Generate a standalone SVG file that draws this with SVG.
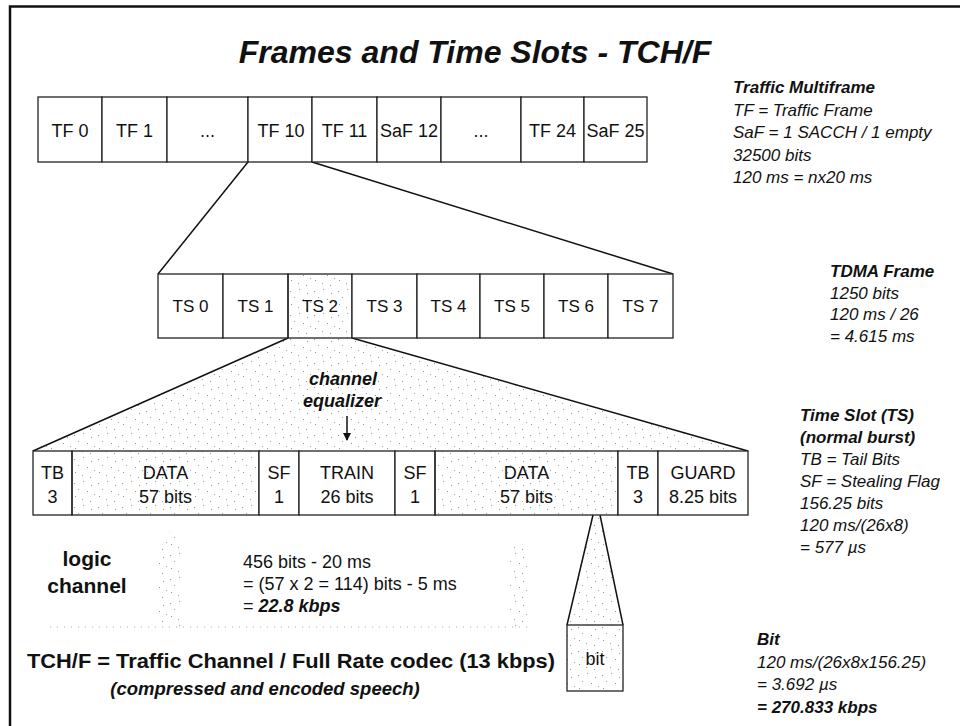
<svg xmlns="http://www.w3.org/2000/svg" width="960" height="726" viewBox="0 0 960 726">
  <defs>
    <!-- sparse grey stipple used for the highlighted slot, burst data and bit -->
    <pattern id="stipple" width="24" height="24" patternUnits="userSpaceOnUse">
      <rect x="2" y="3" width="1" height="1" fill="#959595"/>
      <rect x="11" y="1" width="1" height="1" fill="#a5a5a5"/>
      <rect x="19" y="5" width="1" height="1" fill="#959595"/>
      <rect x="6" y="9" width="1" height="1" fill="#a5a5a5"/>
      <rect x="15" y="11" width="1" height="1" fill="#959595"/>
      <rect x="22" y="14" width="1" height="1" fill="#a5a5a5"/>
      <rect x="3" y="16" width="1" height="1" fill="#959595"/>
      <rect x="10" y="19" width="1" height="1" fill="#a5a5a5"/>
      <rect x="18" y="21" width="1" height="1" fill="#959595"/>
    </pattern>
    <marker id="arrow" markerWidth="8" markerHeight="10" refX="7" refY="5" orient="auto" markerUnits="userSpaceOnUse">
      <path d="M0,1 L8,5 L0,9 Z" fill="#111"/>
    </marker>
  </defs>
  <style>
    text { font-family: "Liberation Sans", Arial, sans-serif; fill: #111; }
    .cell { font-size: 18px; text-anchor: middle; }
    .ts { font-size: 17px; text-anchor: middle; }
    .box { fill: #fff; stroke: #222; stroke-width: 1.3; }
    .dots { fill: url(#stipple); stroke: #222; stroke-width: 1.3; }
    .note { font-size: 17px; font-style: italic; }
    .noteb { font-size: 17px; font-style: italic; font-weight: bold; }
    .link { stroke: #111; stroke-width: 1.5; fill: none; }
  </style>

  <rect width="960" height="726" fill="#fff"/>

  <!-- frame lines -->
  <path d="M10,726 V6.5 H960" fill="none" stroke="#111" stroke-width="2.5"/>

  <!-- title -->
  <text x="475" y="63" font-size="32" font-weight="bold" font-style="italic" text-anchor="middle">Frames and Time Slots - TCH/F</text>

  <!-- connectors -->
  <g id="connectors">
    <!-- TS 2 fan-out area -->
    <polygon points="288,338 352,338 748,451 33,451" fill="url(#stipple)" stroke="none"/>
    <line class="link" x1="248" y1="162" x2="158" y2="274"/>
    <line class="link" x1="312" y1="162" x2="673" y2="274"/>
    <line class="link" x1="288" y1="338" x2="33" y2="451"/>
    <line class="link" x1="352" y1="338" x2="748" y2="451"/>
    <!-- bit zoom -->
    <polygon points="593,515 600,515 623,625 567,625" fill="url(#stipple)" stroke="none"/>
    <line class="link" x1="593" y1="515" x2="567" y2="625"/>
    <line class="link" x1="600" y1="515" x2="623" y2="625"/>
    <!-- equalizer pointer -->
    <line class="link" x1="347" y1="416" x2="347" y2="440" marker-end="url(#arrow)"/>
  </g>

  <!-- traffic multiframe -->
  <g id="multiframe">
    <rect class="box" x="38" y="97" width="64" height="65"/>
    <rect class="box" x="102" y="97" width="65" height="65"/>
    <rect class="box" x="167" y="97" width="81" height="65"/>
    <rect class="box" x="248" y="97" width="64" height="65"/>
    <rect class="box" x="312" y="97" width="65" height="65"/>
    <rect class="box" x="377" y="97" width="64" height="65"/>
    <rect class="box" x="441" y="97" width="80" height="65"/>
    <rect class="box" x="521" y="97" width="63" height="65"/>
    <rect class="box" x="584" y="97" width="63" height="65"/>
    <text class="cell" x="70" y="137">TF 0</text>
    <text class="cell" x="134.5" y="137">TF 1</text>
    <text class="cell" x="207.5" y="137">...</text>
    <text class="cell" x="281" y="137">TF 10</text>
    <text class="cell" x="344.5" y="137">TF 11</text>
    <text class="cell" x="409" y="137">SaF 12</text>
    <text class="cell" x="481" y="137">...</text>
    <text class="cell" x="552.5" y="137">TF 24</text>
    <text class="cell" x="615.5" y="137">SaF 25</text>
  </g>

  <g id="multiframe-note">
    <text class="noteb" x="733" y="93">Traffic Multiframe</text>
    <text class="note" x="733" y="115.5">TF = Traffic Frame</text>
    <text class="note" x="733" y="138">SaF = 1 SACCH / 1 empty</text>
    <text class="note" x="733" y="160.5">32500 bits</text>
    <text class="note" x="733" y="183">120 ms = nx20 ms</text>
  </g>

  <!-- TDMA frame -->
  <g id="tdma-frame">
    <rect class="box" x="158" y="274" width="65" height="64"/>
    <rect class="box" x="223" y="274" width="65" height="64"/>
    <rect class="dots" x="288" y="274" width="64" height="64"/>
    <rect class="box" x="352" y="274" width="65" height="64"/>
    <rect class="box" x="417" y="274" width="63" height="64"/>
    <rect class="box" x="480" y="274" width="64" height="64"/>
    <rect class="box" x="544" y="274" width="64" height="64"/>
    <rect class="box" x="608" y="274" width="65" height="64"/>
    <text class="ts" x="190.5" y="312">TS 0</text>
    <text class="ts" x="255.5" y="312">TS 1</text>
    <text class="ts" x="320" y="312">TS 2</text>
    <text class="ts" x="384.5" y="312">TS 3</text>
    <text class="ts" x="448.5" y="312">TS 4</text>
    <text class="ts" x="512" y="312">TS 5</text>
    <text class="ts" x="576" y="312">TS 6</text>
    <text class="ts" x="640.5" y="312">TS 7</text>
  </g>

  <g id="tdma-note">
    <text class="noteb" x="830" y="277">TDMA Frame</text>
    <text class="note" x="830" y="298.5">1250 bits</text>
    <text class="note" x="830" y="320">120 ms / 26</text>
    <text class="note" x="830" y="341.5">= 4.615 ms</text>
  </g>

  <g id="equalizer-label">
    <text x="343" y="385" font-size="18" font-weight="bold" font-style="italic" text-anchor="middle">channel</text>
    <text x="342" y="407" font-size="18" font-weight="bold" font-style="italic" text-anchor="middle">equalizer</text>
  </g>

  <!-- normal burst -->
  <g id="burst">
    <rect class="box" x="33" y="451" width="39" height="64"/>
    <rect class="dots" x="72" y="451" width="187" height="64"/>
    <rect class="box" x="259" y="451" width="40" height="64"/>
    <rect class="box" x="299" y="451" width="96" height="64"/>
    <rect class="box" x="395" y="451" width="40" height="64"/>
    <rect class="dots" x="435" y="451" width="183" height="64"/>
    <rect class="box" x="618" y="451" width="40" height="64"/>
    <rect class="box" x="658" y="451" width="90" height="64"/>
    <text class="cell" x="52.5" y="479">TB</text>
    <text class="cell" x="52.5" y="503">3</text>
    <text class="cell" x="165.5" y="479">DATA</text>
    <text class="cell" x="165.5" y="503">57 bits</text>
    <text class="cell" x="279" y="479">SF</text>
    <text class="cell" x="279" y="503">1</text>
    <text class="cell" x="347" y="479">TRAIN</text>
    <text class="cell" x="347" y="503">26 bits</text>
    <text class="cell" x="415" y="479">SF</text>
    <text class="cell" x="415" y="503">1</text>
    <text class="cell" x="526.5" y="479">DATA</text>
    <text class="cell" x="526.5" y="503">57 bits</text>
    <text class="cell" x="638" y="479">TB</text>
    <text class="cell" x="638" y="503">3</text>
    <text class="cell" x="703" y="479">GUARD</text>
    <text class="cell" x="703" y="503">8.25 bits</text>
  </g>

  <g id="burst-note">
    <text class="noteb" x="800" y="421">Time Slot (TS)</text>
    <text class="noteb" x="800" y="443">(normal burst)</text>
    <text class="note" x="800" y="465">TB = Tail Bits</text>
    <text class="note" x="800" y="487">SF = Stealing Flag</text>
    <text class="note" x="800" y="509">156.25 bits</text>
    <text class="note" x="800" y="531">120 ms/(26x8)</text>
    <text class="note" x="800" y="553">= 577 µs</text>
  </g>

  <!-- single bit -->
  <g id="bit">
    <rect class="dots" x="567" y="625" width="56" height="66"/>
    <text class="cell" x="595" y="665">bit</text>
  </g>

  <g id="bit-note">
    <text class="noteb" x="757" y="645">Bit</text>
    <text class="note" x="757" y="667.5">120 ms/(26x8x156.25)</text>
    <text class="note" x="757" y="690">= 3.692 µs</text>
    <text class="noteb" x="757" y="712.5">= 270.833 kbps</text>
  </g>

  <!-- logic channel -->
  <g id="logic-channel">
    <polygon points="169,530 187,552 182,552 182,627 157,627 157,552 152,552" fill="url(#stipple)"/>
    <polygon points="519,540 531,552 530,552 530,627 508,627 508,552 507,552" fill="url(#stipple)"/>
    <line x1="50" y1="627" x2="530" y2="627" stroke="#b0b0b0" stroke-width="1" stroke-dasharray="1 6"/>
    <text x="87" y="566" font-size="21" font-weight="bold" text-anchor="middle">logic</text>
    <text x="87" y="593" font-size="21" font-weight="bold" text-anchor="middle">channel</text>
    <text x="243" y="568" font-size="18">456 bits - 20 ms</text>
    <text x="243" y="590" font-size="18">= (57 x 2 = 114) bits - 5 ms</text>
    <text x="243" y="612" font-size="18">= <tspan font-weight="bold" font-style="italic">22.8 kbps</tspan></text>
  </g>

  <g id="codec-note">
    <text x="27" y="668" font-size="20" font-weight="bold" textLength="528" lengthAdjust="spacingAndGlyphs">TCH/F = Traffic Channel / Full Rate codec (13 kbps)</text>
    <text x="265" y="695" font-size="18.5" font-weight="bold" font-style="italic" text-anchor="middle">(compressed and encoded speech)</text>
  </g>
</svg>
